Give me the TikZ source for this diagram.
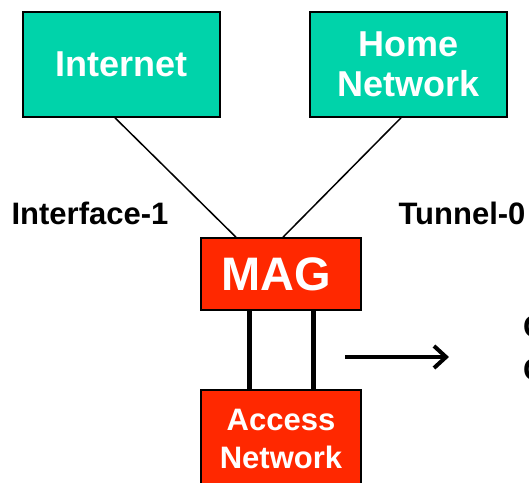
\documentclass[tikz,border=0pt]{standalone}
\usepackage{fontspec}
\setmainfont{Liberation Sans}
\usepackage{tikz}
\usetikzlibrary{calc,arrows.meta}
\definecolor{netgreen}{RGB}{0,211,170}
\definecolor{magred}{RGB}{255,40,0}
\tikzset{
	netbox/.style={draw=black, line width=1.6pt, fill=netgreen, text=white, align=center, inner sep=0pt,
		minimum width=197pt, minimum height=105pt, font=\bfseries\fontsize{36}{40}\selectfont},
	redbox/.style={draw=black, line width=1.6pt, fill=magred, text=white, align=center, inner sep=0pt,
		minimum width=160pt},
	iflabel/.style={inner sep=0pt, font=\bfseries\fontsize{31}{34}\selectfont}
}

\begin{document}
\begin{tikzpicture}[x=1pt, y=1pt]
		%%%%% START %%%%%
		\useasboundingbox (0, 0) rectangle (529, -482);
		
		\node[netbox] (inet) at (121.5, -64.5) {Internet};
		\node[netbox] (home) at (408.5, -64.5) {Home\\Network};
		
		\node[redbox, minimum height=72pt, font=\bfseries\fontsize{47}{50}\selectfont] (mag) at (281, -274) {MAG\hspace*{10pt}};
		\node[redbox, minimum height=98pt, font=\bfseries\fontsize{31}{38}\selectfont] (access) at (281, -439) {Access\\Network};
		
		\draw[line width=1.5pt] ([xshift=-6.5pt]inet.south) -- ([xshift=-45pt]mag.north);
		\draw[line width=1.5pt] ([xshift=-7.5pt]home.south) -- ([xshift=2pt]mag.north);
		
		\draw[line width=5pt] ([xshift=-32pt]mag.south) -- ([xshift=-32pt]access.north);
		\draw[line width=5pt] ([xshift=32pt]mag.south) -- ([xshift=32pt]access.north);
		
		\node[iflabel] (if1) at (90, -213) {Interface-1};
		\node[iflabel] (tun0) at (462, -213) {Tunnel-0};
		
		% arrow with a heavy open head
		\coordinate (arrowstart) at (345, -357);
		\coordinate (arrowend) at (446, -357);
		\draw[line width=4pt] (arrowstart) -- (arrowend);
		\draw[line width=4pt, line join=miter] ($(arrowend)+(-12, 11)$) -- (arrowend) -- ($(arrowend)+(-12, -11)$);
		
		\node[iflabel, anchor=west] (crea) at (523, -327) {C};
		\node[iflabel, anchor=west] (creb) at (523, -370) {C};
		%%%%% END %%%%%
\end{tikzpicture}
\end{document}
